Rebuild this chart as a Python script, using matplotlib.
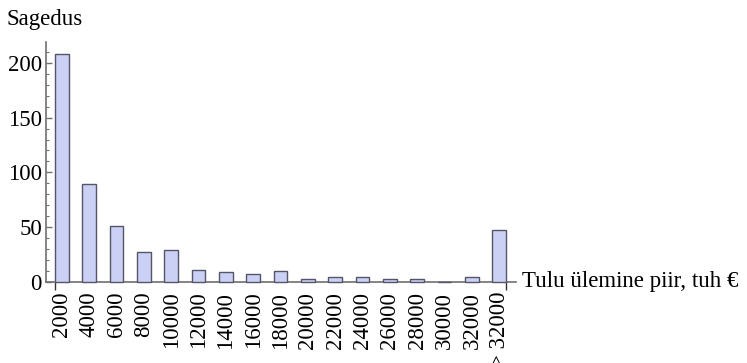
import numpy as np
from matplotlib import pyplot as plt
from matplotlib.ticker import MultipleLocator, FixedLocator

# data
categories = ['2000', '4000', '6000', '8000', '10000', '12000', '14000', '16000',
              '18000', '20000', '22000', '24000', '26000', '28000', '30000',
              '32000', '> 32000']
counts = [208, 89, 51, 27, 29, 11, 9, 7, 10, 3, 5, 5, 3, 3, 0, 5, 47]

plt.rcParams['font.family'] = ['Liberation Serif', 'DejaVu Serif']
plt.rcParams['font.size'] = 16.5

axis_col = '#707070'
fig = plt.figure(figsize=(7.47, 3.63), dpi=100)
ax = fig.add_axes([46/747, 81/363, (516-46)/747, 240/363])

x = np.arange(len(categories))
ax.bar(x, counts, width=0.5, color='#cbd1f5', edgecolor='#55556a', linewidth=1.0,
       zorder=3, clip_on=False)

ax.set_xlim(-0.575, 16.61)
ax.set_ylim(0, 219)

for s in ['top', 'right']:
    ax.spines[s].set_visible(False)
for s in ['left', 'bottom']:
    ax.spines[s].set_color(axis_col)
    ax.spines[s].set_linewidth(1.2)

ax.yaxis.set_major_locator(MultipleLocator(50))
ax.yaxis.set_minor_locator(MultipleLocator(10))
ax.tick_params(axis='y', which='major', direction='in', length=4.5, width=1,
               color=axis_col, pad=3)
ax.tick_params(axis='y', which='minor', direction='in', length=2.5, width=0.8,
               color=axis_col)

ax.set_xticks(x)
ax.set_xticklabels(categories, rotation=90, va='top', ha='center')
ax.xaxis.set_minor_locator(FixedLocator([-0.25, 16.25]))
ax.tick_params(axis='x', which='major', length=0, pad=7)
ax.tick_params(axis='x', which='minor', direction='out', length=6, width=1,
               color='#333333')

fig.text(7/747, 1 - 20/363, 'Sagedus', ha='left', va='center')
fig.text(522/747, 1 - 282/363, 'Tulu ülemine piir, tuh €', ha='left', va='center')

plt.savefig('out.png', dpi=100)
